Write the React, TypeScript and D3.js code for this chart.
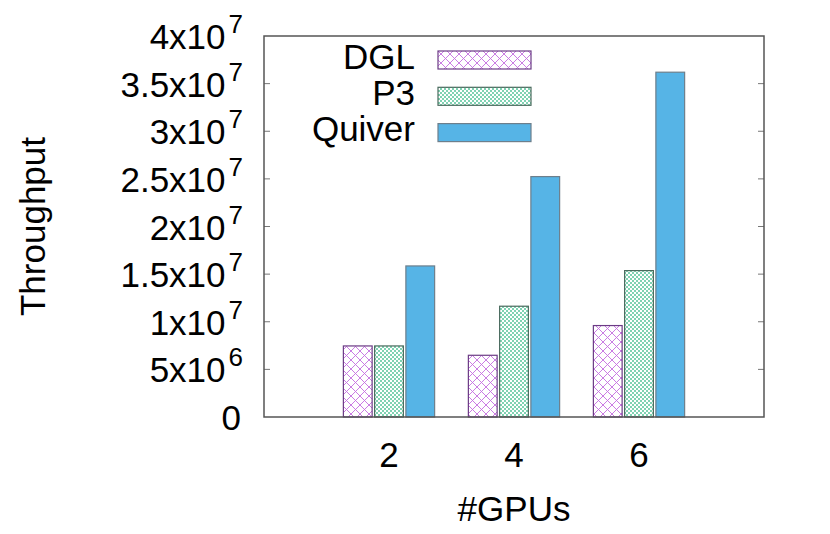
import React from "react";
import * as d3 from "d3";

const gpus = [2, 4, 6];
const series = ["DGL", "P3", "Quiver"];
const dgl = [7.46e6, 6.48e6, 9.6e6];
const p3 = [7.46e6, 11.63e6, 15.37e6];
const quiver = [15.86e6, 25.24e6, 36.2e6];
const yTickLabels: [string, string][] = [
  ["0", ""],
  ["5x10", "6"],
  ["1x10", "7"],
  ["1.5x10", "7"],
  ["2x10", "7"],
  ["2.5x10", "7"],
  ["3x10", "7"],
  ["3.5x10", "7"],
  ["4x10", "7"],
];
const yTickValues = [0, 5e6, 1e7, 1.5e7, 2e7, 2.5e7, 3e7, 3.5e7, 4e7];

const width = 830;
const height = 534;
const margin = { top: 36, right: 66, bottom: 117, left: 264 };
const font = "'Liberation Sans', Arial, Helvetica, sans-serif";
const fs = 35;

const App = () => {
  const x = d3.scaleLinear().domain([0, 8]).range([margin.left, width - margin.right]);
  const y = d3.scaleLinear().domain([0, 4e7]).range([height - margin.bottom, margin.top]);
  const unit = x(1) - x(0);
  const barW = unit * 0.46;
  const offsets = [-0.5, 0, 0.5];
  const values = [dgl, p3, quiver];
  const fills = ["url(#hatchDGL)", "url(#hatchP3)", "#56b4e6"];
  const strokes = ["#6b3b85", "#4a6b5e", "#6d7f8c"];

  const x0 = x.range()[0];
  const x1 = x.range()[1];
  const y0 = y.range()[0];
  const y1 = y.range()[1];

  return (
    <svg width={width} height={height} style={{ position: "absolute", left: 0, top: 0 }}>
      <defs>
        <pattern id="hatchDGL" width="9" height="9" patternUnits="userSpaceOnUse">
          <rect width="9" height="9" fill="#fff" />
          <path d="M0,0 L9,9 M-1,8 L1,10 M8,-1 L10,1" stroke="#c46ee0" strokeWidth="0.9" />
          <path d="M0,9 L9,0 M-1,1 L1,-1 M8,10 L10,8" stroke="#c46ee0" strokeWidth="0.9" />
        </pattern>
        <pattern id="hatchP3" width="4" height="4" patternUnits="userSpaceOnUse">
          <rect width="4" height="4" fill="#fff" />
          <rect x="0" y="0" width="2" height="2" fill="#7fd2b2" />
          <rect x="2" y="2" width="2" height="2" fill="#7fd2b2" />
        </pattern>
      </defs>
      <rect width={width} height={height} fill="#fff" />

      {/* bars */}
      {values.map((vals, s) =>
        vals.map((v, i) => (
          <rect
            key={`${s}-${i}`}
            x={x(gpus[i] + offsets[s]) - barW / 2}
            y={y(v)}
            width={barW}
            height={y(0) - y(v)}
            fill={fills[s]}
            stroke={strokes[s]}
            strokeWidth={1.2}
          />
        ))
      )}

      {/* y ticks, mirrored */}
      {yTickValues.map((t, i) => (
        <g key={i}>
          {i > 0 && i < yTickValues.length - 1 && (
            <>
              <line x1={x0} x2={x0 + 6} y1={y(t)} y2={y(t)} stroke="#777" strokeWidth={1} />
              <line x1={x1} x2={x1 - 6} y1={y(t)} y2={y(t)} stroke="#777" strokeWidth={1} />
            </>
          )}
          <text
            x={yTickLabels[i][1] ? 243 : 241}
            y={y(t) + 13}
            textAnchor="end"
            fontFamily={font}
            fontSize={fs}
            fill="#000"
          >
            {yTickLabels[i][0]}
            {yTickLabels[i][1] && (
              <tspan dx={3} dy={-16} fontSize={26}>
                {yTickLabels[i][1]}
              </tspan>
            )}
          </text>
        </g>
      ))}

      {/* x tick labels */}
      {gpus.map((g) => (
        <text key={g} x={x(g)} y={467} textAnchor="middle" fontFamily={font} fontSize={fs}>
          {g}
        </text>
      ))}

      {/* border */}
      <rect x={x0} y={y1} width={x1 - x0} height={y0 - y1} fill="none" stroke="#555" strokeWidth={1.5} />

      {/* axis titles */}
      <text x={514} y={521} textAnchor="middle" fontFamily={font} fontSize={fs}>
        #GPUs
      </text>
      <text
        transform={`translate(45,${(y0 + y1) / 2}) rotate(-90)`}
        textAnchor="middle"
        fontFamily={font}
        fontSize={fs}
      >
        Throughput
      </text>

      {/* legend */}
      {series.map((name, s) => {
        const cy = 60 + s * 36.3;
        return (
          <g key={name}>
            <text x={415} y={cy + 8.5} textAnchor="end" fontFamily={font} fontSize={fs}>
              {name}
            </text>
            <rect
              x={438}
              y={cy - 9}
              width={93}
              height={18}
              fill={fills[s]}
              stroke={strokes[s]}
              strokeWidth={1.2}
            />
          </g>
        );
      })}
    </svg>
  );
};

export default App;
